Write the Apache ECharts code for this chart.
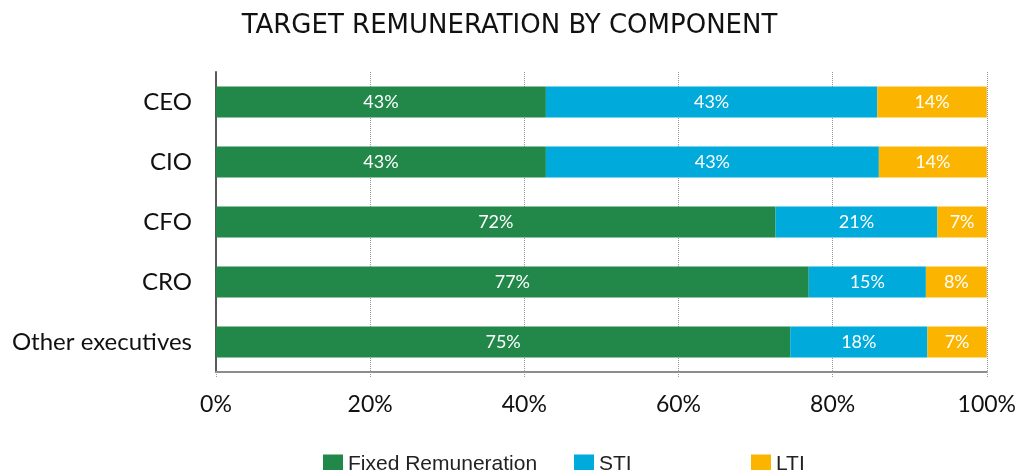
<!DOCTYPE html>
<html>
<head>
<meta charset="utf-8">
<script src="https://cdn.jsdelivr.net/npm/echarts@6/dist/echarts.min.js"></script>
<style>
	html, body { margin: 0; padding: 0; background: #fff; }
	#chart_box { width: 1019px; height: 470px; }
</style>
</head>
<body>
<div id="chart_box"></div>
<script type="text/javascript">
// roles, top to bottom
var categories = ['CEO', 'CIO', 'CFO', 'CRO', 'Other executives'];

// shares (percent of total)
var fixedValues = [42.8, 42.8, 72.6, 76.9, 74.5];
var stiValues = [43.0, 43.2, 21.0, 15.2, 17.8];
var ltiValues = [14.2, 14.0, 6.4, 7.9, 7.7];

// printed labels in the bars
var fixedLabels = ['43%', '43%', '72%', '77%', '75%'];
var stiLabels = ['43%', '43%', '21%', '15%', '18%'];
var ltiLabels = ['14%', '14%', '7%', '8%', '7%'];

var xTicks = [0, 20, 40, 60, 80, 100];

var myChart = echarts.init(document.getElementById('chart_box'));

function barLabel(labels) {
	return {
		show: true,
		position: 'inside',
		color: '#fff',
		fontFamily: 'Lato',
		fontSize: 18,
		formatter: function (p) { return labels[p.dataIndex]; }
	};
}

var legendText = { color: '#222', fontFamily: 'Liberation Sans', fontSize: 21 };

var option = {
	animation: false,
	title: {
		text: 'TARGET REMUNERATION BY COMPONENT',
		left: 'center',
		top: 8,
		textStyle: {
			color: '#111',
			fontFamily: 'DejaVu Sans',
			fontWeight: 'normal',
			fontSize: 26
		}
	},
	legend: [
		{ data: ['Fixed Remuneration'], left: 318, top: 449, icon: 'rect', itemWidth: 20, itemHeight: 20, itemGap: 8, textStyle: legendText },
		{ data: ['STI'], left: 569, top: 449, icon: 'rect', itemWidth: 20, itemHeight: 20, textStyle: legendText },
		{ data: ['LTI'], left: 746, top: 449, icon: 'rect', itemWidth: 20, itemHeight: 20, textStyle: legendText }
	],
	grid: { left: 216, right: 29, top: 72, bottom: 98 },
	xAxis: {
		type: 'value',
		min: 0,
		max: 100,
		interval: 20,
		axisLine: { show: true, lineStyle: { color: '#8c8c8c', width: 2 } },
		axisTick: { show: true, length: 5, lineStyle: { color: '#999', type: 'dotted' } },
		splitLine: { show: true, lineStyle: { color: '#999', type: 'dotted', width: 1 } },
		axisLabel: {
			margin: 21,
			color: '#111',
			fontFamily: 'Lato',
			fontSize: 23,
			formatter: function (v) { return xTicks.indexOf(v) >= 0 ? v + '%' : ''; }
		}
	},
	yAxis: {
		type: 'category',
		inverse: true,
		data: categories,
		axisLine: { show: true, lineStyle: { color: '#595959', width: 2 } },
		axisTick: { show: false },
		axisLabel: {
			margin: 24,
			color: '#111',
			fontFamily: 'Lato',
			fontSize: 24
		}
	},
	series: [
		{
			name: 'Fixed Remuneration',
			type: 'bar',
			stack: 'total',
			barWidth: 31,
			itemStyle: { color: '#21884a' },
			label: barLabel(fixedLabels),
			data: fixedValues
		},
		{
			name: 'STI',
			type: 'bar',
			stack: 'total',
			barWidth: 31,
			itemStyle: { color: '#00aadb' },
			label: barLabel(stiLabels),
			data: stiValues
		},
		{
			name: 'LTI',
			type: 'bar',
			stack: 'total',
			barWidth: 31,
			itemStyle: { color: '#fbb400' },
			label: barLabel(ltiLabels),
			data: ltiValues
		}
	]
};
myChart.setOption(option);
</script>
</body>
</html>
